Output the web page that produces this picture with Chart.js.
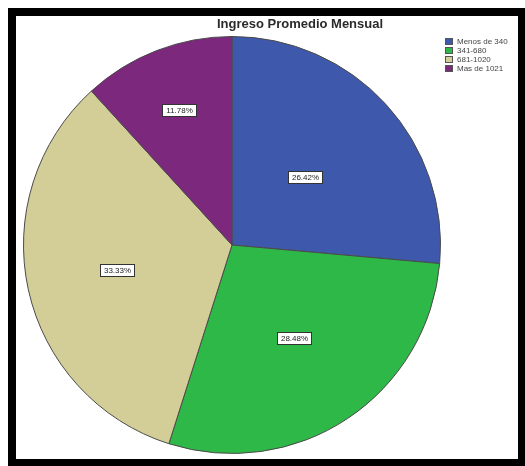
<!DOCTYPE html>
<html lang="es">
<head>
<meta charset="utf-8">
<title>Ingreso Promedio Mensual</title>
<script src="https://cdn.jsdelivr.net/npm/chart.js@4.4.1/dist/chart.umd.min.js"></script>
<style>
    html, body {
        margin: 0;
        padding: 0;
        background: #ffffff;
        overflow: hidden;
    }
    .chart-frame {
        position: absolute;
        left: 8px;
        top: 8px;
        width: 502px;
        height: 443px;
        border: 8px solid #000000;
        background: #ffffff;
    }
    #incomeChart {
        display: block;
    }
</style>
</head>
<body>
<div class="chart-frame">
    <canvas id="incomeChart" width="502" height="443"></canvas>
</div>

<script>
// Income brackets and share of respondents (%)
const categories = ['Menos de 340', '341-680', '681-1020', 'Mas de 1021'];
const percentages = [26.42, 28.48, 33.33, 11.78];
const sliceColors = ['#3E58AC', '#2EB848', '#D3CE97', '#7C287D'];
const chartTitle = 'Ingreso Promedio Mensual';

// Title drawn over the full frame width, a bit right of centre
const titlePlugin = {
    id: 'frameTitle',
    afterDraw(chart, args, opts) {
        const ctx = chart.ctx;
        ctx.save();
        ctx.font = 'bold 13px "Liberation Sans", Arial, sans-serif';
        ctx.fillStyle = '#2a2a2a';
        ctx.textAlign = 'center';
        ctx.textBaseline = 'middle';
        ctx.fillText(opts.text, opts.x, opts.y);
        ctx.restore();
    }
};

// Small legend in the top-right corner
const legendPlugin = {
    id: 'cornerLegend',
    afterDraw(chart, args, opts) {
        const ctx = chart.ctx;
        const ds = chart.data.datasets[0];
        ctx.save();
        ctx.font = '8px "Liberation Sans", Arial, sans-serif';
        ctx.textBaseline = 'middle';
        chart.data.labels.forEach((label, i) => {
            const y = opts.y + i * opts.rowHeight;
            ctx.fillStyle = ds.backgroundColor[i];
            ctx.fillRect(opts.x, y, opts.box, opts.box - 1);
            ctx.strokeStyle = '#555555';
            ctx.lineWidth = 1;
            ctx.strokeRect(opts.x + 0.5, y + 0.5, opts.box - 1, opts.box - 2);
            ctx.fillStyle = '#444444';
            ctx.fillText(label, opts.x + opts.box + 4, y + opts.box / 2);
        });
        ctx.restore();
    }
};

// Boxed percentage labels inside each slice
const sliceLabelPlugin = {
    id: 'sliceLabels',
    afterDatasetsDraw(chart, args, opts) {
        const ctx = chart.ctx;
        const meta = chart.getDatasetMeta(0);
        const values = chart.data.datasets[0].data;
        ctx.save();
        ctx.font = '8px "Liberation Sans", Arial, sans-serif';
        ctx.textAlign = 'center';
        ctx.textBaseline = 'middle';
        meta.data.forEach((arc, i) => {
            const p = arc.getProps(['x', 'y', 'startAngle', 'endAngle', 'outerRadius'], true);
            const mid = (p.startAngle + p.endAngle) / 2;
            const r = p.outerRadius * opts.radiusFraction[i];
            const x = p.x + Math.cos(mid) * r;
            const y = p.y + Math.sin(mid) * r;
            const text = values[i].toFixed(2) + '%';
            const w = Math.round(ctx.measureText(text).width) + 8;
            const h = 13;
            const left = Math.round(x - w / 2);
            const top = Math.round(y - h / 2);
            ctx.fillStyle = '#ffffff';
            ctx.fillRect(left, top, w, h);
            ctx.strokeStyle = '#333333';
            ctx.lineWidth = 1;
            ctx.strokeRect(left + 0.5, top + 0.5, w - 1, h - 1);
            ctx.fillStyle = '#222222';
            ctx.fillText(text, left + w / 2, top + h / 2 + 0.5);
        });
        ctx.restore();
    }
};

document.addEventListener('DOMContentLoaded', () => {
    const ctx = document.getElementById('incomeChart').getContext('2d');
    new Chart(ctx, {
        type: 'pie',
        data: {
            labels: categories,
            datasets: [{
                data: percentages,
                backgroundColor: sliceColors,
                borderColor: '#4a4a4a',
                borderWidth: 1
            }]
        },
        plugins: [titlePlugin, legendPlugin, sliceLabelPlugin],
        options: {
            responsive: false,
            animation: false,
            layout: {
                padding: { left: 5, top: 20, right: 75, bottom: 5 }
            },
            plugins: {
                legend: { display: false },
                tooltip: { enabled: false },
                frameTitle: { text: chartTitle, x: 284, y: 8 },
                cornerLegend: { x: 429, y: 22, rowHeight: 9, box: 8 },
                sliceLabels: { radiusFraction: [0.48, 0.54, 0.56, 0.69] }
            }
        }
    });
});
</script>
</body>
</html>
